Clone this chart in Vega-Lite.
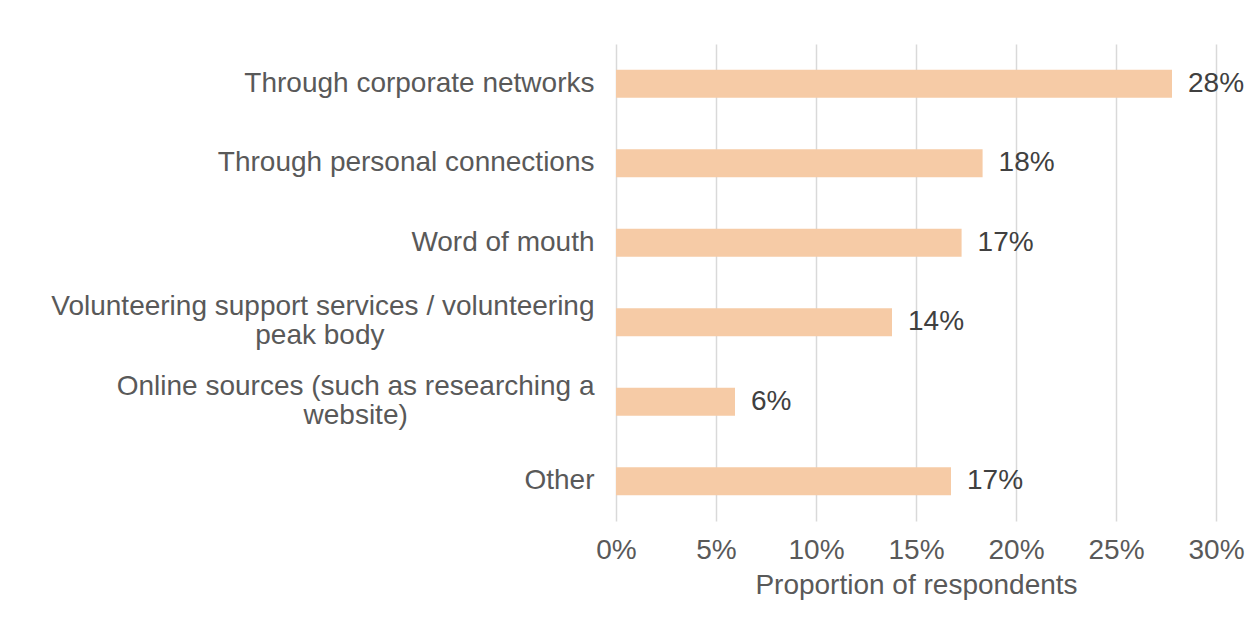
{
  "$schema": "https://vega.github.io/schema/vega-lite/v6.json",
  "width": 600,
  "height": 477,
  "autosize": "none",
  "padding": {"left": 616, "top": 44, "right": 44, "bottom": 105},
  "background": "white",
  "config": {"view": {"stroke": null}, "font": "Liberation Sans"},
  "data": {
    "values": [
      {"source": "Through corporate networks", "share": 0.278},
      {"source": "Through personal connections", "share": 0.1833},
      {"source": "Word of mouth", "share": 0.1728},
      {"source": "Volunteering support services / volunteering|peak body", "share": 0.138},
      {"source": "Online sources (such as researching a|website)", "share": 0.0595},
      {"source": "Other", "share": 0.1675}
    ]
  },
  "encoding": {
    "y": {
      "field": "source",
      "type": "nominal",
      "sort": null,
      "scale": {"paddingInner": 0.65, "paddingOuter": 0.325},
      "axis": {
        "title": null,
        "domain": false,
        "ticks": false,
        "tickSize": 0,
        "labelPadding": 22,
        "labelFontSize": 28,
        "labelColor": "#595959",
        "labelLimit": 700,
        "labelLineHeight": 29,
        "labelOffset": {"condition": {"test": "indexof(datum.value, '|') >= 0", "value": -15}, "value": 0},
        "labelExpr": "indexof(datum.label, '|') < 0 ? datum.label : [split(datum.label, '|')[0], pad(split(datum.label, '|')[1], length(split(datum.label, '|')[1]) + (indexof(datum.label, 'Volunteering') == 0 ? 27 : 24), '\u00a0') + '\u200b']"
      }
    },
    "x": {
      "field": "share",
      "type": "quantitative",
      "scale": {"domain": [0, 0.3], "nice": false},
      "axis": {
        "format": ".0%",
        "values": [0, 0.05, 0.1, 0.15, 0.2, 0.25, 0.3],
        "grid": true,
        "gridColor": "#d9d9d9",
        "gridWidth": 1.5,
        "domain": false,
        "ticks": false,
        "tickSize": 0,
        "labelFlush": false,
        "labelOverlap": false,
        "labelPadding": 15,
        "labelFontSize": 28,
        "labelColor": "#595959",
        "title": "Proportion of respondents",
        "titleFontSize": 28,
        "titleFontWeight": "normal",
        "titleColor": "#595959",
        "titlePadding": 7
      }
    }
  },
  "layer": [
    {"mark": {"type": "bar", "color": "#F6CBA6"}},
    {
      "mark": {"type": "text", "align": "left", "baseline": "middle", "dx": 16, "fontSize": 28, "color": "#404040"},
      "encoding": {"text": {"field": "share", "format": ".0%"}}
    }
  ]
}
